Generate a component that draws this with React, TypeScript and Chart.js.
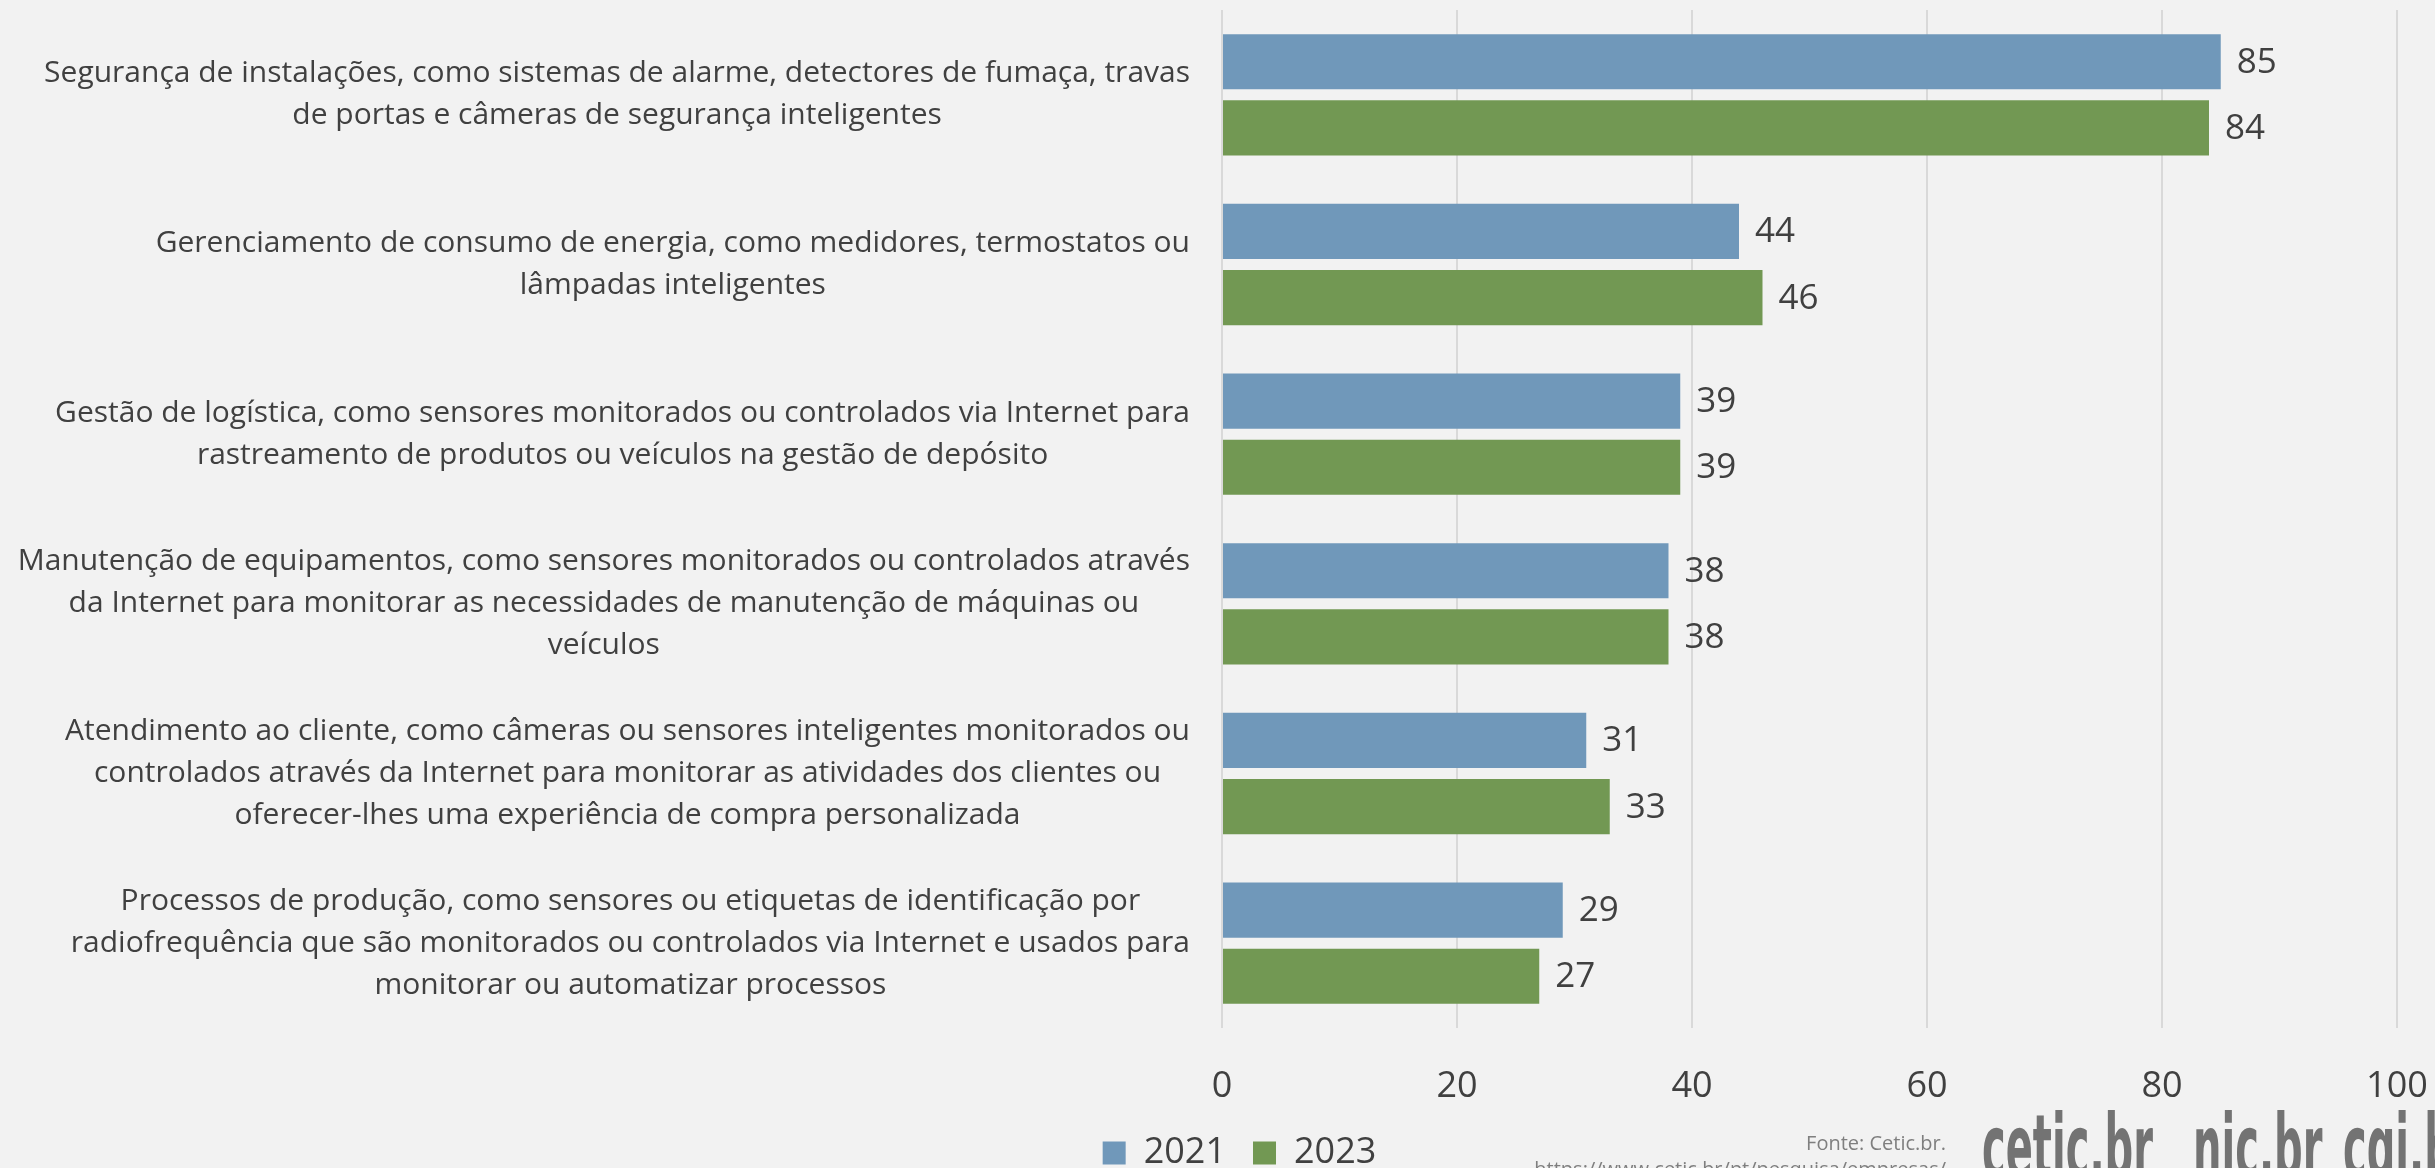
import { useEffect, useRef } from "react";
import { Chart, registerables } from "chart.js";

Chart.register(...registerables);

// ---------------- data ----------------
const categories: string[][] = [
  [
    "Segurança de instalações, como sistemas de alarme, detectores de fumaça, travas",
    "de portas e câmeras de segurança inteligentes",
  ],
  [
    "Gerenciamento de consumo de energia, como medidores, termostatos ou",
    "lâmpadas inteligentes",
  ],
  [
    "Gestão de logística, como sensores monitorados ou controlados via Internet para",
    "rastreamento de produtos ou veículos na gestão de depósito",
  ],
  [
    "Manutenção de equipamentos, como sensores monitorados ou controlados através",
    "da Internet para monitorar as necessidades de manutenção de máquinas ou",
    "veículos",
  ],
  [
    "Atendimento ao cliente, como câmeras ou sensores inteligentes monitorados ou",
    "controlados através da Internet para monitorar as atividades dos clientes ou",
    "oferecer-lhes uma experiência de compra personalizada",
  ],
  [
    "Processos de produção, como sensores ou etiquetas de identificação por",
    "radiofrequência que são monitorados ou controlados via Internet e usados para",
    "monitorar ou automatizar processos",
  ],
];
const values2021 = [85, 44, 39, 38, 31, 29];
const values2023 = [84, 46, 39, 38, 33, 27];
const seriesNames = ["2021", "2023"];
const xMin = 0;
const xMax = 100;
const xStep = 20;
const sourceLines = ["Fonte: Cetic.br.", "https://www.cetic.br/pt/pesquisa/empresas/"];
const logoWords = ["cetic.br", "nic.br", "cgi.br"];

// ---------------- styles ----------------
const W = 2435;
const H = 1168;
const BG = "#F2F2F2";
const TEXT = "#404040";
const BLUE = "#7098BA";
const GREEN = "#729853";
const GRID = "#D9D9D9";
const FONT = "'Open Sans', 'Noto Sans', sans-serif";

const backgroundPlugin = {
  id: "bg",
  beforeDraw(chart: any) {
    const { ctx } = chart;
    ctx.save();
    ctx.fillStyle = BG;
    ctx.fillRect(0, 0, chart.width, chart.height);
    ctx.restore();
  },
};

const legendShiftPlugin = {
  id: "legendShift",
  afterLayout(chart: any) {
    const lg = chart.legend;
    if (lg) {
      lg.left += 41;
      lg.right += 41;
    }
  },
};

const categoryLabelPlugin = {
  id: "catLabels",
  afterDraw(chart: any) {
    const { ctx } = chart;
    const y = chart.scales.y;
    const rightEdge = chart.chartArea.left - 32;
    const lineH = 42;
    ctx.save();
    ctx.font = `30px ${FONT}`;
    ctx.fillStyle = TEXT;
    ctx.textBaseline = "middle";
    ctx.textAlign = "center";
    categories.forEach((lines, i) => {
      const cy = y.getPixelForValue(i);
      const bw = Math.max(...lines.map((l) => ctx.measureText(l).width));
      const cx = rightEdge - bw / 2;
      const y0 = cy - ((lines.length - 1) * lineH) / 2;
      lines.forEach((l, j) => ctx.fillText(l, cx, y0 + j * lineH));
    });
    ctx.restore();
  },
};

const valueLabelPlugin = {
  id: "valLabels",
  afterDatasetsDraw(chart: any) {
    const { ctx } = chart;
    ctx.save();
    ctx.font = `35px ${FONT}`;
    ctx.fillStyle = TEXT;
    ctx.textBaseline = "middle";
    ctx.textAlign = "left";
    chart.data.datasets.forEach((ds: any, di: number) => {
      const meta = chart.getDatasetMeta(di);
      meta.data.forEach((bar: any, i: number) => {
        ctx.fillText(String(ds.data[i]), bar.x + 16, bar.y + 1);
      });
    });
    ctx.restore();
  },
};

const footerPlugin = {
  id: "footer",
  afterDraw(chart: any) {
    const { ctx } = chart;
    ctx.save();
    ctx.font = `20px ${FONT}`;
    ctx.fillStyle = "#7F7F7F";
    ctx.textAlign = "right";
    ctx.textBaseline = "alphabetic";
    ctx.fillText(sourceLines[0], 1946, 1150);
    ctx.fillText(sourceLines[1], 1946, 1176);

    // logos
    ctx.fillStyle = "#737373";
    ctx.textAlign = "left";
    ctx.font = `bold 66px 'DejaVu Sans Condensed', 'DejaVu Sans', sans-serif`;
    const w0 = ctx.measureText(logoWords[0]).width;
    const sx = 171 / w0;
    const sy = 1.35;
    const xs = [1982, 2193, 2343];
    logoWords.forEach((wd, i) => {
      ctx.save();
      ctx.translate(xs[i], 1178);
      ctx.scale(sx, sy);
      ctx.fillText(wd, 0, 0);
      ctx.restore();
    });
    ctx.restore();
  },
};

export default function App() {
  const ref = useRef<HTMLCanvasElement | null>(null);

  useEffect(() => {
    document.body.style.margin = "0";
    document.body.style.background = BG;
    document.documentElement.style.overflow = "hidden";
    const canvas = ref.current;
    if (!canvas) return;
    const chart = new Chart(canvas, {
      type: "bar",
      data: {
        labels: categories.map((c) => c.join(" ")),
        datasets: [
          {
            label: seriesNames[0],
            data: values2021,
            backgroundColor: BLUE,
            borderWidth: 0,
            categoryPercentage: 0.78,
            barPercentage: 0.833,
          },
          {
            label: seriesNames[1],
            data: values2023,
            backgroundColor: GREEN,
            borderWidth: 0,
            categoryPercentage: 0.78,
            barPercentage: 0.833,
          },
        ],
      },
      options: {
        indexAxis: "y",
        responsive: false,
        animation: false,
        devicePixelRatio: 1,
        layout: { padding: { top: 10, right: 38, left: 0, bottom: -13 } },
        scales: {
          x: {
            min: xMin,
            max: xMax,
            ticks: {
              stepSize: xStep,
              padding: 37,
              color: TEXT,
              font: { family: FONT, size: 36 },
            },
            grid: { color: GRID, lineWidth: 2, drawTicks: false },
            border: { display: false },
            afterFit: (s: any) => {
              s.height = 80;
              s.paddingLeft = 0;
              s.paddingRight = 0;
            },
          },
          y: {
            ticks: { display: false },
            grid: { display: false },
            border: { display: false },
            afterFit: (s: any) => {
              s.width = 1222;
            },
          },
        },
        plugins: {
          legend: {
            position: "bottom",
            labels: {
              boxWidth: 23,
              boxHeight: 23,
              padding: 27,
              color: TEXT,
              font: { family: FONT, size: 36 },
            },
          },
          tooltip: { enabled: false },
        },
      },
      plugins: [backgroundPlugin, legendShiftPlugin, categoryLabelPlugin, valueLabelPlugin, footerPlugin],
    });
    return () => chart.destroy();
  }, []);

  return (
    <div style={{ width: W, height: H, overflow: "hidden", background: BG }}>
      <canvas ref={ref} width={W} height={H} style={{ display: "block", width: W, height: H }} />
    </div>
  );
}
